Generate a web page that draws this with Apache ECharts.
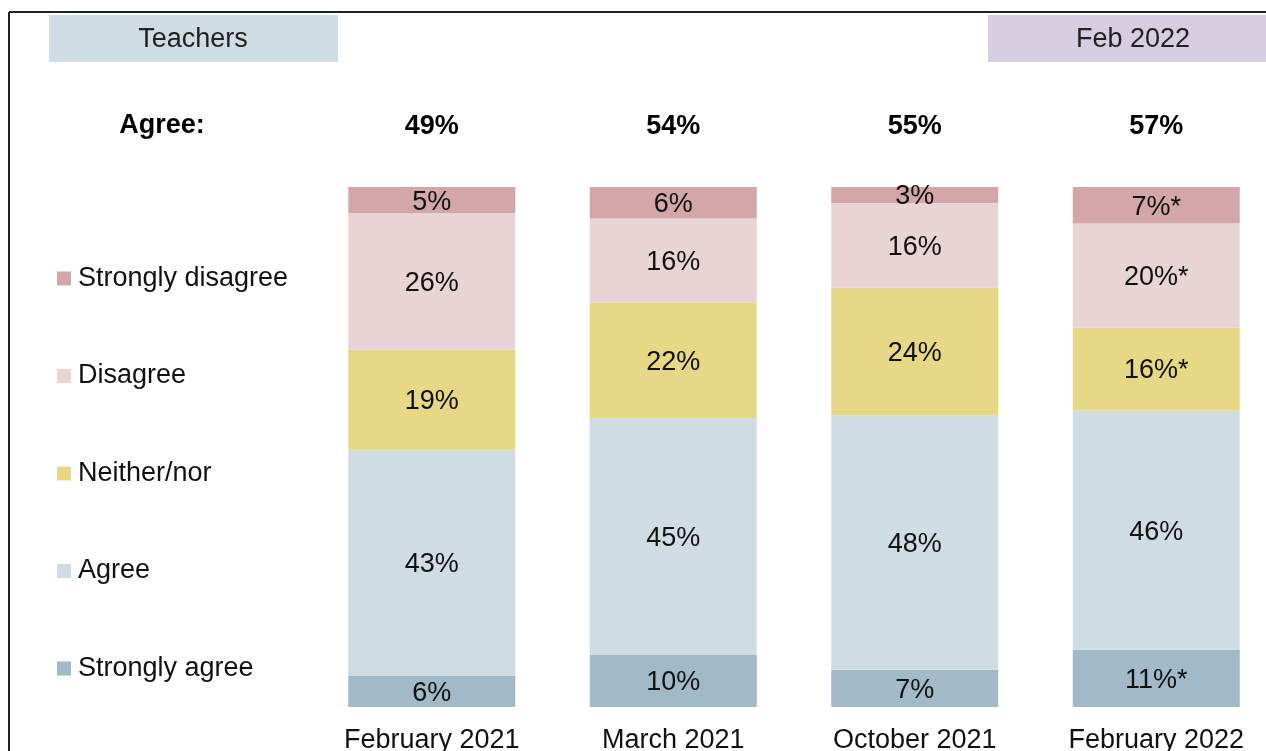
<!DOCTYPE html>
<html>
<head>
<meta charset="utf-8">
<script src="https://cdn.jsdelivr.net/npm/echarts@6/dist/echarts.min.js"></script>
<style>
  html, body { margin: 0; padding: 0; background: #fff; overflow: hidden; }
  #main { width: 1266px; height: 751px; }
</style>
</head>
<body>
<div id="main"></div>
<script>
// 调查时间
const waves = ['February 2021', 'March 2021', 'October 2021', 'February 2022'];
// 同意合计（顶部加粗）
const agreeTotals = [49, 54, 55, 57];
// 各选项百分比
const stronglyAgree = [6, 10, 7, 11];
const agree = [43, 45, 48, 46];
const neither = [19, 22, 24, 16];
const disagree = [26, 16, 16, 20];
const stronglyDisagree = [5, 6, 3, 7];
// 显著性标记 (*)
const sigSA = [false, false, false, true];
const sigA = [false, false, false, false];
const sigN = [false, false, false, true];
const sigD = [false, false, false, true];
const sigSD = [false, false, false, true];

const FONT = '"Liberation Sans", Arial, sans-serif';

const totals = waves.map((w, i) =>
  stronglyAgree[i] + agree[i] + neither[i] + disagree[i] + stronglyDisagree[i]);

function makeSeries(name, values, sig, color) {
  return {
    name: name,
    type: 'bar',
    stack: 'all',
    barWidth: 167,
    itemStyle: { color: color },
    label: {
      show: true,
      position: 'inside',
      offset: [0, 2],
      color: '#111',
      fontFamily: FONT,
      fontSize: 27,
      formatter: function (p) {
        return values[p.dataIndex] + '%' + (sig[p.dataIndex] ? '*' : '');
      }
    },
    // 按每列合计归一化为100%
    data: values.map((v, i) => v / totals[i] * 100)
  };
}

const chart = echarts.init(document.getElementById('main'));
const option = {
  animation: false,
  textStyle: { fontFamily: FONT },
  grid: { left: 311, top: 187, width: 966, height: 520, outerBoundsMode: 'none', containLabel: false },
  legend: {
    orient: 'vertical',
    left: 52,
    top: 260,
    icon: 'rect',
    itemWidth: 14,
    itemHeight: 14,
    itemGap: 70.5,
    selectedMode: false,
    textStyle: { fontSize: 27, color: '#111', fontFamily: FONT, padding: [0, 0, 0, 2] },
    data: ['Strongly disagree', 'Disagree', 'Neither/nor', 'Agree', 'Strongly agree']
  },
  xAxis: [{
    type: 'category',
    data: waves,
    axisLine: { show: false },
    axisTick: { show: false },
    axisLabel: { color: '#111', fontSize: 27, fontFamily: FONT, margin: 20 }
  }, {
    type: 'category',
    position: 'top',
    data: agreeTotals.map(v => v + '%'),
    axisLine: { show: false },
    axisTick: { show: false },
    axisLabel: { color: '#000', fontSize: 27, fontWeight: 'bold', fontFamily: FONT, margin: 47 }
  }],
  yAxis: { type: 'value', min: 0, max: 100, show: false },
  graphic: [
    { type: 'line', shape: { x1: 9, y1: 12, x2: 1266, y2: 12 }, style: { stroke: '#222', lineWidth: 2 } },
    { type: 'line', shape: { x1: 9, y1: 12, x2: 9, y2: 751 }, style: { stroke: '#222', lineWidth: 2 } },
    { type: 'rect', shape: { x: 49, y: 15, width: 289, height: 47 }, style: { fill: '#D0DCE4' } },
    { type: 'text', x: 193, y: 40, style: { text: 'Teachers', fontSize: 27, fontFamily: FONT, fill: '#222', align: 'center', verticalAlign: 'middle' } },
    { type: 'rect', shape: { x: 988, y: 15, width: 278, height: 47 }, style: { fill: '#D6CEE0' } },
    { type: 'text', x: 1133, y: 40, style: { text: 'Feb 2022', fontSize: 27, fontFamily: FONT, fill: '#222', align: 'center', verticalAlign: 'middle' } },
    { type: 'text', x: 162, y: 126, style: { text: 'Agree:', fontSize: 27, fontWeight: 'bold', fontFamily: FONT, fill: '#000', align: 'center', verticalAlign: 'middle' } }
  ],
  series: [
    makeSeries('Strongly agree', stronglyAgree, sigSA, '#A2B9C8'),
    makeSeries('Agree', agree, sigA, '#D0DCE4'),
    makeSeries('Neither/nor', neither, sigN, '#E6D884'),
    makeSeries('Disagree', disagree, sigD, '#E8D3D5'),
    makeSeries('Strongly disagree', stronglyDisagree, sigSD, '#D3A7A9')
  ]
};
chart.setOption(option);
</script>
</body>
</html>
